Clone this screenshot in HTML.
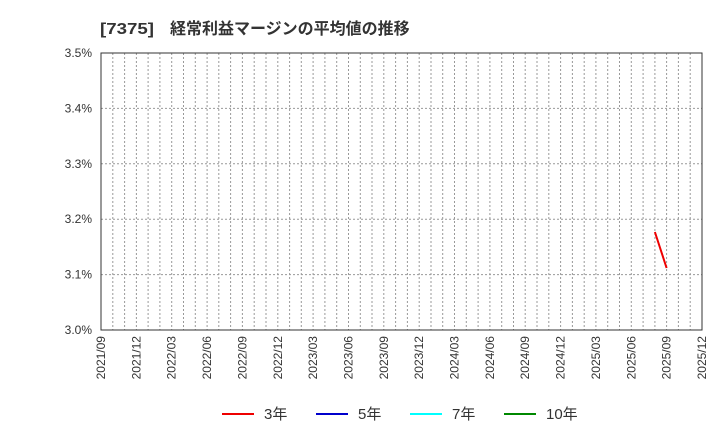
<!DOCTYPE html>
<html><head><meta charset="utf-8"><style>body{margin:0;background:#fff}svg{display:block}text{font-family:"Liberation Sans","Noto Sans CJK JP",sans-serif}</style></head><body>
<svg width="720" height="440" xmlns="http://www.w3.org/2000/svg">
<text x="100" y="34" font-size="16" font-weight="bold" fill="#333" textLength="54" lengthAdjust="spacingAndGlyphs">[7375]</text>
<text x="170" y="34" font-size="16" font-weight="bold" fill="#333">経常利益マージンの平均値の推移</text>
<g stroke="#999" stroke-width="1" stroke-dasharray="2,2" fill="none">
<path d="M101,108.4H702M101,163.8H702M101,219.2H702M101,274.6H702"/>
<path d="M112.8,53V330M124.6,53V330M136.4,53V330M148.1,53V330M159.9,53V330M171.7,53V330M183.5,53V330M195.3,53V330M207.1,53V330M218.8,53V330M230.6,53V330M242.4,53V330M254.2,53V330M266,53V330M277.8,53V330M289.6,53V330M301.3,53V330M313.1,53V330M324.9,53V330M336.7,53V330M348.5,53V330M360.3,53V330M372,53V330M383.8,53V330M395.6,53V330M407.4,53V330M419.2,53V330M431,53V330M442.7,53V330M454.5,53V330M466.3,53V330M478.1,53V330M489.9,53V330M501.7,53V330M513.5,53V330M525.2,53V330M537,53V330M548.8,53V330M560.6,53V330M572.4,53V330M584.2,53V330M595.9,53V330M607.7,53V330M619.5,53V330M631.3,53V330M643.1,53V330M654.9,53V330M666.6,53V330M678.4,53V330M690.2,53V330"/>
</g>
<rect x="101" y="53" width="601" height="277" fill="none" stroke="#333" stroke-width="1"/>
<g font-size="12" fill="#333" text-anchor="end">
<text x="92" y="57">3.5%</text><text x="92" y="112.4">3.4%</text><text x="92" y="167.8">3.3%</text><text x="92" y="223.2">3.2%</text><text x="92" y="278.6">3.1%</text><text x="92" y="334">3.0%</text>
</g>
<g font-size="12" fill="#333" text-anchor="end">
<text transform="translate(105,336) rotate(-90)">2021/09</text>
<text transform="translate(140.4,336) rotate(-90)">2021/12</text>
<text transform="translate(175.7,336) rotate(-90)">2022/03</text>
<text transform="translate(211.1,336) rotate(-90)">2022/06</text>
<text transform="translate(246.4,336) rotate(-90)">2022/09</text>
<text transform="translate(281.8,336) rotate(-90)">2022/12</text>
<text transform="translate(317.1,336) rotate(-90)">2023/03</text>
<text transform="translate(352.5,336) rotate(-90)">2023/06</text>
<text transform="translate(387.8,336) rotate(-90)">2023/09</text>
<text transform="translate(423.2,336) rotate(-90)">2023/12</text>
<text transform="translate(458.5,336) rotate(-90)">2024/03</text>
<text transform="translate(493.9,336) rotate(-90)">2024/06</text>
<text transform="translate(529.2,336) rotate(-90)">2024/09</text>
<text transform="translate(564.6,336) rotate(-90)">2024/12</text>
<text transform="translate(599.9,336) rotate(-90)">2025/03</text>
<text transform="translate(635.3,336) rotate(-90)">2025/06</text>
<text transform="translate(670.6,336) rotate(-90)">2025/09</text>
<text transform="translate(706,336) rotate(-90)">2025/12</text>
</g>
<path d="M654.9,232L666.6,268" stroke="#e00" stroke-width="2" fill="none"/>
<g font-size="15" fill="#333">
<line x1="222" y1="414" x2="254" y2="414" stroke="#e00" stroke-width="2"/><text x="264" y="419">3年</text>
<line x1="316" y1="414" x2="348" y2="414" stroke="#00c" stroke-width="2"/><text x="358" y="419">5年</text>
<line x1="410" y1="414" x2="442" y2="414" stroke="#0ff" stroke-width="2"/><text x="452" y="419">7年</text>
<line x1="504" y1="414" x2="536" y2="414" stroke="#080" stroke-width="2"/><text x="546" y="419">10年</text>
</g>
</svg>
</body></html>
